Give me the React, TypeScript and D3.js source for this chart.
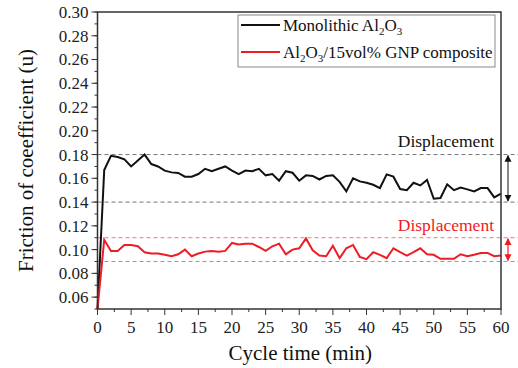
import { useMemo } from "react";
import * as d3 from "d3";

// ── Data ──────────────────────────────────────────────────────
const cycleTime = d3.range(0, 61); // 0..60 min, 1-min steps

const monolithic = [
  0.05, 0.167, 0.179, 0.178, 0.176, 0.170, 0.175, 0.180, 0.172, 0.170,
  0.1665, 0.165, 0.1645, 0.1614, 0.1614, 0.1636, 0.168, 0.166, 0.168, 0.170,
  0.1665, 0.1636, 0.1665, 0.166, 0.168, 0.1625, 0.1636, 0.158, 0.166, 0.1647,
  0.158, 0.1625, 0.162, 0.159, 0.162, 0.1625, 0.157, 0.149, 0.160, 0.1574,
  0.1563, 0.1546, 0.1518, 0.1633, 0.1614, 0.151, 0.150, 0.1563, 0.154, 0.1586,
  0.1428, 0.1434, 0.155, 0.150, 0.1523, 0.1507, 0.149, 0.1518, 0.1518, 0.144,
  0.1472,
];

const composite = [
  0.05, 0.1083, 0.0989, 0.0989, 0.1039, 0.1039, 0.1028, 0.0978, 0.0967, 0.0967,
  0.0956, 0.0944, 0.0961, 0.100, 0.0944, 0.0967, 0.0983, 0.0989, 0.0983, 0.0989,
  0.1056, 0.1044, 0.105, 0.105, 0.1022, 0.0989, 0.1028, 0.105, 0.0961, 0.100,
  0.1011, 0.1094, 0.0994, 0.095, 0.0944, 0.1033, 0.0928, 0.1011, 0.1039, 0.0939,
  0.092, 0.0978, 0.0956, 0.0928, 0.1011, 0.0978, 0.095, 0.0978, 0.1011, 0.0961,
  0.0956, 0.0922, 0.0922, 0.0922, 0.0961, 0.0944, 0.0956, 0.0972, 0.0972, 0.0944,
  0.095,
];

// displacement bands [low, high]
const monoBand = [0.14, 0.18];
const compBand = [0.09, 0.11];

const xTicks = d3.range(0, 61, 5);
const xMinor = d3.range(2.5, 60, 5);
const yTicks = d3.range(0.06, 0.301, 0.02);
const yMinor = d3.range(0.05, 0.301, 0.01);

// ── Layout ────────────────────────────────────────────────────
const W = 518, H = 368;
const M = { left: 97.5, right: 501, top: 12, bottom: 309 };
const FONT = "Liberation Serif, Times New Roman, serif";
const RED = "#ee1c25";

export default function App() {
  const x = useMemo(() => d3.scaleLinear().domain([0, 60]).range([M.left, M.right]), []);
  const y = useMemo(() => d3.scaleLinear().domain([0.05, 0.30]).range([M.bottom, M.top]), []);

  const line = d3.line<number>()
    .x((_d, i) => x(cycleTime[i]))
    .y((d) => y(d));

  const arrowX = 508;

  return (
    <svg width={W} height={H}
      style={{ position: "absolute", left: 0, top: 0, background: "#fff", fontFamily: FONT }}>
      <defs>
        <marker id="ahBlack" viewBox="0 0 10 10" refX="9" refY="5"
          markerWidth="7" markerHeight="9" orient="auto-start-reverse" markerUnits="userSpaceOnUse">
          <path d="M0,0 L10,5 L0,10 z" fill="#111" />
        </marker>
        <marker id="ahRed" viewBox="0 0 10 10" refX="9" refY="5"
          markerWidth="7" markerHeight="9" orient="auto-start-reverse" markerUnits="userSpaceOnUse">
          <path d="M0,0 L10,5 L0,10 z" fill={RED} />
        </marker>
      </defs>

      {/* displacement reference lines */}
      {monoBand.map((v) => (
        <line key={"m" + v} x1={M.left} x2={W} y1={y(v)} y2={y(v)}
          stroke="#777" strokeWidth={1} strokeDasharray="4,3" />
      ))}
      {compBand.map((v) => (
        <line key={"c" + v} x1={M.left} x2={W} y1={y(v)} y2={y(v)}
          stroke="#e8797d" strokeWidth={1} strokeDasharray="4,3" />
      ))}

      {/* series */}
      <path d={line(monolithic) ?? ""} fill="none" stroke="#111" strokeWidth={2} />
      <path d={line(composite) ?? ""} fill="none" stroke={RED} strokeWidth={2} />

      {/* frame */}
      <rect x={M.left} y={M.top} width={M.right - M.left} height={M.bottom - M.top}
        fill="none" stroke="#333" strokeWidth={1.5} />

      {/* y axis ticks */}
      {yMinor.map((v) => (
        <line key={"ym" + v} x1={M.left - 3} x2={M.left} y1={y(v)} y2={y(v)} stroke="#333" strokeWidth={1} />
      ))}
      {yTicks.map((v) => (
        <g key={"y" + v}>
          <line x1={M.left - 6} x2={M.left} y1={y(v)} y2={y(v)} stroke="#333" strokeWidth={1} />
          <text x={M.left - 9} y={y(v)} dy="0.35em" textAnchor="end" fontSize={17} fill="#222">
            {v.toFixed(2)}
          </text>
        </g>
      ))}

      {/* x axis ticks */}
      {xMinor.map((v) => (
        <line key={"xm" + v} x1={x(v)} x2={x(v)} y1={M.bottom} y2={M.bottom + 3} stroke="#333" strokeWidth={1} />
      ))}
      {xTicks.map((v) => (
        <g key={"x" + v}>
          <line x1={x(v)} x2={x(v)} y1={M.bottom} y2={M.bottom + 6} stroke="#333" strokeWidth={1} />
          <text x={x(v)} y={M.bottom + 24} textAnchor="middle" fontSize={17} fill="#222">{v}</text>
        </g>
      ))}

      {/* axis titles */}
      <text x={(M.left + M.right) / 2 + 1} y={360} textAnchor="middle" fontSize={21} fill="#111">
        Cycle time (min)
      </text>
      <text transform={`translate(33,${(M.top + M.bottom) / 2}) rotate(-90)`} textAnchor="middle"
        fontSize={21} fill="#111">
        Friction of coeefficient (u)
      </text>

      {/* displacement annotations */}
      <text x={494} y={147} textAnchor="end" fontSize={17.5} fill="#111">Displacement</text>
      <text x={494} y={231} textAnchor="end" fontSize={17.5} fill={RED}>Displacement</text>
      <line x1={arrowX} x2={arrowX} y1={y(monoBand[1]) + 1} y2={y(monoBand[0]) - 1}
        stroke="#111" strokeWidth={1}
        markerStart="url(#ahBlack)" markerEnd="url(#ahBlack)" />
      <line x1={arrowX} x2={arrowX} y1={y(compBand[1]) + 1} y2={y(compBand[0]) - 1}
        stroke={RED} strokeWidth={1.2}
        markerStart="url(#ahRed)" markerEnd="url(#ahRed)" />

      {/* legend */}
      <rect x={238} y={15} width={257} height={52} fill="#fff" stroke="#888" strokeWidth={1} />
      <line x1={241} x2={280} y1={25} y2={25} stroke="#111" strokeWidth={2} />
      <text x={283} y={31} fontSize={17} fill="#111">
        Monolithic Al<tspan fontSize={11} dy={4}>2</tspan>
        <tspan dy={-4}>O</tspan><tspan fontSize={11} dy={4}>3</tspan>
      </text>
      <line x1={241} x2={280} y1={52} y2={52} stroke={RED} strokeWidth={2} />
      <text x={283} y={58} fontSize={17} fill="#111">
        Al<tspan fontSize={11} dy={4}>2</tspan>
        <tspan dy={-4}>O</tspan><tspan fontSize={11} dy={4}>3</tspan>
        <tspan dy={-4}>/15vol% GNP composite</tspan>
      </text>
    </svg>
  );
}
